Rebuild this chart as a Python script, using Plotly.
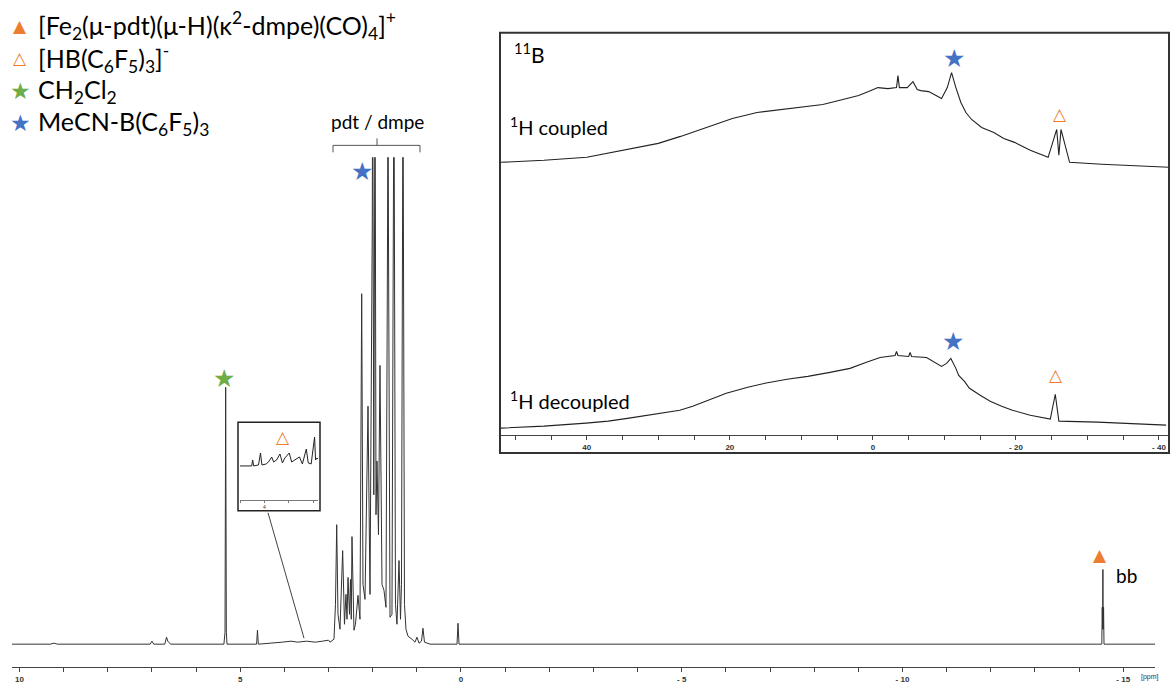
import plotly.graph_objects as go

W, H = 1170, 684

# ---------------- 1H NMR spectrum (ppm, intensity a.u.) ----------------
h_ppm = [10.17, 9.30, 9.22, 9.14, 7.04, 7.00, 6.96, 6.71, 6.67, 6.64, 6.58,
         5.37, 5.345, 5.33, 5.315, 5.30,
         4.63, 4.61, 4.59, 4.20, 4.05, 3.85, 3.70, 3.50, 3.30, 3.14, 3.00,
         2.967, 2.877, 2.843, 2.815, 2.786, 2.741, 2.680, 2.639, 2.605, 2.582,
         2.559, 2.525, 2.503, 2.485, 2.469, 2.424, 2.390, 2.333, 2.288, 2.249,
         2.220, 2.174, 2.106, 2.061, 2.010, 2.000, 1.990, 1.975, 1.958, 1.948,
         1.938, 1.925, 1.903, 1.869,
         1.835, 1.789, 1.744, 1.699, 1.663, 1.653, 1.643, 1.608, 1.563, 1.528,
         1.518, 1.508, 1.484, 1.450,
         1.404, 1.370, 1.348, 1.324, 1.314, 1.304, 1.280, 1.246, 1.200, 1.110,
         1.042, 0.997,
         0.951, 0.895, 0.861, 0.827, 0.70,
         0.09, 0.068, 0.045,
         -14.48, -14.515, -14.525, -14.535, -14.54, -14.545, -14.555, -14.565,
         -15.72]
h_int = [0, 0, 1, 0, 0, 3, 0, 0, 7, 3, 0,
         0, 12, 258, 12, 0,
         0, 14, 0, 1, 2, 3, 2, 3, 2, 3, 4,
         2, 5, 40, 120, 30, 15, 94, 20, 50, 25,
         67, 30, 65, 25, 108, 14, 20, 49, 25, 352,
         60, 45, 239, 50, 420, 600, 420, 150, 420, 600,
         420, 130, 184, 110,
         280, 60, 54, 37, 420, 600, 420, 27, 30, 420,
         600, 420, 40, 20,
         84, 25, 60, 420, 600, 420, 40, 15, 8, 5,
         2, 7,
         1, 3, 16, 2, 0,
         0, 21, 0,
         0, 0, 37, 15, 75, 15, 37, 0,
         0]

# ---------------- zoom box (1H, HB(C6F5)3 region) ----------------
z_ppm = [4.50, 4.30, 4.26, 4.24, 4.22, 4.12, 4.08, 4.05, 3.96, 3.90, 3.85,
         3.81, 3.75, 3.68, 3.63, 3.58, 3.49, 3.44, 3.38, 3.28, 3.22, 3.14,
         3.10, 3.04, 2.97, 2.95, 2.92, 2.88]
z_int = [0, 0, 0, 6, 0, 1, 13, 1, 2, 5, 9,
         4, 6, 12, 3, 8, 13, 4, 6, 9, 2, 17,
         3, 2, 29, 6, 8, 6]

# ---------------- 11B, 1H coupled ----------------
bc_ppm = [52.0, 46.0, 40.0, 37.0, 34.0, 30.0, 26.9, 23.0, 19.65, 16.2, 13.0,
          10.2, 7.0, 4.2, 2.0, 0.6, -0.7, -2.1,
          -3.3, -3.5, -3.7, -4.8, -5.6, -6.2, -6.7, -7.8, -9.6, -10.4, -11.0,
          -11.6, -12.3, -13.0, -13.8, -15.2, -16.9, -18.3, -19.8, -22.0,
          -24.5, -25.7, -26.0, -26.3, -27.5, -32.0, -41.4]
bc_int = [5, 7, 10, 14, 18, 24, 31, 41, 49, 55, 58,
          60, 63, 68, 72, 76, 80, 79,
          80, 92, 80, 80, 86, 78, 77, 76, 69, 80, 95,
          80, 65, 55, 48, 40, 35, 29, 25, 17,
          10, 38, 12, 38, 5, 3, 0]

# ---------------- 11B, 1H decoupled ----------------
bd_ppm = [52.0, 46.0, 40.1, 37.0, 34.1, 31.5, 29.4, 27.0, 25.2, 23.0, 20.5,
          17.5, 15.1, 12.0, 9.1, 6.0, 3.2, 1.0, -1.0, -3.1,
          -3.3, -3.5, -5.0, -5.2, -5.4, -7.5, -9.6, -10.3, -10.9, -11.6, -12.0,
          -12.8, -13.5, -15.0, -16.4, -18.0, -19.5, -22.0, -24.8, -25.5,
          -26.0, -31.4, -41.0]
bd_int = [-3, -1, 2, 4, 7, 10, 12, 15, 19, 25, 32,
          38, 42, 46, 49, 53, 57, 63, 68, 70,
          74, 70, 69, 73, 69, 68, 59, 62, 67, 57, 50,
          44, 37, 30, 24, 19, 15, 10, 6, 31,
          4, 3, 0]

COUPLED_OFFSET = 269
DECOUPLED_OFFSET = 10

main_tickvals = list(range(10, -16, -1))
main_ticklabels = {10: "10", 5: "5", 0: "0", -5: "- 5", -10: "- 10", -15: "- 15"}
inset_tickvals = list(range(50, -45, -5))
inset_ticklabels = {40: "40", 20: "20", 0: "0", -20: "- 20", -40: "- 40"}
zoom_tickvals = [4.5, 4.0, 3.5, 3.0]
zoom_ticklabels = {4.0: "4"}

ORANGE = "#ED7D31"
GREEN = "#70AD47"
BLUE = "#4472C4"
TXT = "Lato"
SYM = "DejaVu Sans"


def px(x):
    return x / W


def py(y):
    return 1 - y / H


fig = go.Figure()

fig.add_trace(go.Scatter(x=h_ppm, y=h_int, mode="lines",
                         line=dict(color="#333333", width=1),
                         xaxis="x", yaxis="y", hoverinfo="skip"))
fig.add_trace(go.Scatter(x=z_ppm, y=z_int, mode="lines",
                         line=dict(color="#222222", width=1),
                         xaxis="x3", yaxis="y3", hoverinfo="skip"))
fig.add_trace(go.Scatter(x=bc_ppm, y=[v + COUPLED_OFFSET for v in bc_int],
                         mode="lines", line=dict(color="#222222", width=1.1),
                         xaxis="x2", yaxis="y2", hoverinfo="skip"))
fig.add_trace(go.Scatter(x=bd_ppm, y=[v + DECOUPLED_OFFSET for v in bd_int],
                         mode="lines", line=dict(color="#222222", width=1.1),
                         xaxis="x2", yaxis="y2", hoverinfo="skip"))

tickfont = dict(family="Arial", size=8, color="#333333", weight="bold")

fig.update_layout(
    width=W, height=H,
    margin=dict(l=0, r=0, t=0, b=0),
    paper_bgcolor="white", plot_bgcolor="rgba(0,0,0,0)",
    showlegend=False,
    xaxis=dict(domain=[px(12), px(1155)], range=[10.17, -15.72],
               showgrid=False, zeroline=False, showline=True,
               linecolor="#444444", linewidth=1,
               ticks="outside", ticklen=4, tickcolor="#444444",
               tickmode="array", tickvals=main_tickvals,
               ticktext=[main_ticklabels.get(v, "") for v in main_tickvals],
               tickfont=tickfont, anchor="y"),
    yaxis=dict(domain=[py(670), py(158)], range=[-23, 489], visible=False,
               anchor="x"),
    xaxis2=dict(domain=[px(501), px(1169)], range=[52.0, -41.4],
                showgrid=False, zeroline=False, showline=True,
                linecolor="#444444", linewidth=1,
                ticks="outside", ticklen=4, tickcolor="#444444",
                tickmode="array", tickvals=inset_tickvals,
                ticktext=[inset_ticklabels.get(v, "") for v in inset_tickvals],
                tickfont=tickfont, anchor="y2"),
    yaxis2=dict(domain=[py(437), py(33)], range=[0, 404], visible=False,
                anchor="x2"),
    xaxis3=dict(domain=[px(240), px(318)], range=[4.5, 2.9],
                showgrid=False, zeroline=False, showline=True,
                linecolor="#777777", linewidth=1,
                ticks="outside", ticklen=2, tickcolor="#777777",
                tickmode="array", tickvals=zoom_tickvals,
                ticktext=[zoom_ticklabels.get(v, "") for v in zoom_tickvals],
                tickfont=dict(family="Arial", size=5, color="#333333"),
                anchor="y3"),
    yaxis3=dict(domain=[py(502), py(425)], range=[-34, 43], visible=False,
                anchor="x3"),
)

shapes = []
# inset box
shapes.append(dict(type="rect", xref="paper", yref="paper",
                   x0=px(500), x1=px(1169), y0=py(455), y1=py(33),
                   line=dict(color="#333333", width=2), layer="above"))
# zoom box
shapes.append(dict(type="rect", xref="paper", yref="paper",
                   x0=px(238), x1=px(320), y0=py(513), y1=py(424),
                   line=dict(color="#222222", width=1.5), layer="above"))
# connector line
shapes.append(dict(type="line", xref="paper", yref="paper",
                   x0=px(268), y0=py(515), x1=px(304), y1=py(641),
                   line=dict(color="#444444", width=1)))
# pdt / dmpe bracket
shapes.append(dict(type="path", xref="paper", yref="paper",
                   path=f"M {px(333)},{py(153)} L {px(333)},{py(146)} L {px(420)},{py(146)} L {px(420)},{py(153)}",
                   line=dict(color="#555555", width=1)))
shapes.append(dict(type="line", xref="paper", yref="paper",
                   x0=px(377), y0=py(146), x1=px(377), y1=py(139),
                   line=dict(color="#555555", width=1)))
fig.update_layout(shapes=shapes)

ann = []


def paper_text(x, y, text, size, color="black", family=TXT, xanchor="left"):
    ann.append(dict(x=px(x), y=py(y), xref="paper", yref="paper", text=text,
                    showarrow=False, xanchor=xanchor, yanchor="middle",
                    font=dict(family=family, size=size, color=color)))


def data_sym(xr, yr, x, y, text, size, color):
    ann.append(dict(x=x, y=y, xref=xr, yref=yr, text=text, showarrow=False,
                    xanchor="center", yanchor="middle",
                    font=dict(family=SYM, size=size, color=color)))


# legend
legend_items = [
    ("▲", ORANGE, "[Fe<sub>2</sub>(μ-pdt)(μ-H)(κ<sup>2</sup>-dmpe)(CO)<sub>4</sub>]<sup>+</sup>"),
    ("△", ORANGE, "[HB(C<sub>6</sub>F<sub>5</sub>)<sub>3</sub>]<sup>-</sup>"),
    ("★", GREEN, "CH<sub>2</sub>Cl<sub>2</sub>"),
    ("★", BLUE, "MeCN-B(C<sub>6</sub>F<sub>5</sub>)<sub>3</sub>"),
]
for i, (sym, col, label) in enumerate(legend_items):
    yc = 26 + 32.5 * i
    paper_text(20, yc, sym, 17 if sym != "★" else 23, col, SYM, "center")
    paper_text(36, yc, label, 25)

paper_text(377, 122, "pdt / dmpe", 19, xanchor="center")
paper_text(512, 53, "<sup>11</sup>B", 21)
paper_text(508, 127, "<sup>1</sup>H coupled", 20)
paper_text(508, 402, "<sup>1</sup>H decoupled", 20)
paper_text(1114, 578, "bb", 19)
paper_text(1139, 680, "[ppm]", 7, "#333333", "Arial")

# peak markers (main spectrum)
data_sym("x", "y", 5.37, 267, "★", 25, GREEN)
data_sym("x", "y", 2.24, 475, "★", 25, BLUE)
data_sym("x", "y", -14.47, 90, "▲", 17, ORANGE)
# zoom box marker
data_sym("x3", "y3", 3.62, 29, "△", 17, ORANGE)
# inset markers
data_sym("x2", "y2", -11.4, 378, "★", 25, BLUE)
data_sym("x2", "y2", -26.2, 322, "△", 17, ORANGE)
data_sym("x2", "y2", -11.15, 94, "★", 25, BLUE)
data_sym("x2", "y2", -25.6, 60, "△", 17, ORANGE)

fig.update_layout(annotations=ann)

fig.write_html("out.html")
